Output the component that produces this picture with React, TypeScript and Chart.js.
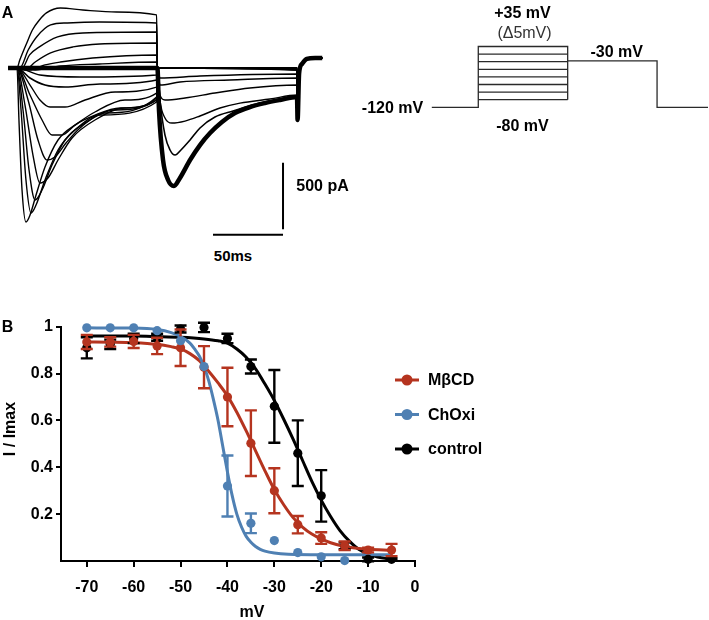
import React, { useEffect, useRef } from 'react';
import { Chart, registerables } from 'chart.js';
Chart.register(...registerables);

const FONT = "'Liberation Sans', Arial, Helvetica, sans-serif";

// ---------------- Panel B data ----------------
const voltages = [-70, -65, -60, -55, -50, -45, -40, -35, -30, -25, -20, -15, -10, -5];
const controlMean = [0.91, 0.925, 0.95, 0.955, 0.99, 0.997, 0.95, 0.83, 0.66, 0.46, 0.278, 0.065, 0.007, 0.007];
const controlErr = [0.045, 0.02, 0.02, 0.015, 0.015, 0.02, 0.02, 0.03, 0.155, 0.14, 0.11, 0.015, 0.008, 0.005];
const mbcdMean = [0.935, 0.935, 0.937, 0.918, 0.91, 0.827, 0.7, 0.503, 0.3, 0.155, 0.098, 0.065, 0.047, 0.047];
const mbcdErr = [0.03, 0.02, 0.028, 0.035, 0.078, 0.09, 0.125, 0.14, 0.096, 0.037, 0.025, 0.018, 0.01, 0.026];
const choxiMean = [0.995, 0.995, 0.995, 0.983, 0.94, 0.83, 0.32, 0.161, 0.087, 0.036, 0.018, 0.002, null, null];
const choxiErr = [0, 0, 0, 0, 0, 0, 0.13, 0.042, 0, 0, 0, 0, 0, 0];

const controlFitV = [-70, -60, -55, -50, -45, -42, -40, -38, -36, -34, -32, -30, -28, -26, -24, -22, -20, -18, -16, -14, -12, -10, -8, -5];
const controlFit = [0.96, 0.96, 0.958, 0.955, 0.948, 0.94, 0.93, 0.905, 0.87, 0.82, 0.755, 0.685, 0.605, 0.52, 0.43, 0.34, 0.26, 0.19, 0.13, 0.085, 0.05, 0.03, 0.017, 0.008];
const mbcdFitV = [-70, -65, -60, -55, -52, -50, -48, -46, -44, -42, -40, -38, -36, -34, -32, -30, -28, -26, -24, -22, -20, -18, -15, -12, -10, -5];
const mbcdFit = [0.935, 0.934, 0.932, 0.925, 0.915, 0.905, 0.885, 0.855, 0.81, 0.76, 0.705, 0.635, 0.555, 0.47, 0.385, 0.305, 0.24, 0.185, 0.145, 0.115, 0.094, 0.078, 0.062, 0.053, 0.05, 0.045];
const choxiFitV = [-70, -60, -55, -52, -50, -48, -47, -46, -45, -44, -43, -42, -41, -40, -39, -38, -37, -36, -35, -34, -33, -32, -30, -27, -20, -5];
const choxiFit = [0.995, 0.994, 0.988, 0.975, 0.958, 0.93, 0.905, 0.875, 0.83, 0.77, 0.69, 0.6, 0.49, 0.38, 0.28, 0.2, 0.145, 0.105, 0.08, 0.062, 0.05, 0.042, 0.034, 0.029, 0.027, 0.027];

const xTickValues = [-70, -60, -50, -40, -30, -20, -10, 0];
const yTickValues = [0.2, 0.4, 0.6, 0.8, 1];
const legendLabels = ['MβCD', 'ChOxi', 'control'];

const RED = '#b5341f';
const BLUE = '#4f80b3';
const BLACK = '#000000';

// ---------------- Panel A data (time ms, current pA) ----------------
const lead = [[-6.4, 0]];
const preFlat = [[0, 0], [99.7, 0]];
const preO1 = [[0, 0], [2, 60], [7, 188], [11, 285], [16, 360], [21, 413], [31, 450], [47, 435], [71, 420], [99.7, 398]];
const preO2 = [[0, 0], [2, 0], [8, 135], [14, 233], [24, 323], [36, 338], [59, 345], [99.7, 338]];
const preO3 = [[0, 0], [3.6, 0], [9, 98], [16, 158], [29, 233], [47, 263], [99.7, 270]];
const preO4 = [[0, 0], [5.7, -15], [13, 45], [24, 113], [40, 158], [59, 180], [99.7, 188]];
const preO5 = [[0, 0], [9, -15], [20, 23], [31, 45], [54, 75], [99.7, 98]];
const preO6 = [[0, 0], [13, -15], [31, 15], [59, 30], [99.7, 45]];
const preI1 = [[0, 0], [1.4, -390], [3.6, -915], [6.4, -1155], [9.3, -1103], [13.6, -953], [20, -743], [29.3, -540], [41.4, -428], [55.7, -353], [73.6, -300], [99.7, -240]];
const preI2 = [[0, 0], [2.9, -315], [6.4, -840], [10, -1088], [13.6, -1028], [20, -840], [29.3, -615], [41.4, -465], [59.3, -353], [99.7, -255]];
const preI3 = [[0, 0], [4.3, -315], [8.6, -765], [12.9, -990], [17.9, -915], [25, -728], [34.3, -540], [48.6, -413], [70, -315], [99.7, -240]];
const preI4 = [[0, 0], [5.7, -278], [11.4, -653], [16.4, -863], [22.1, -825], [29.3, -690], [39.3, -525], [55.7, -390], [77.1, -300], [99.7, -225]];
const preI5 = [[0, 0], [7.9, -240], [15, -540], [21.4, -690], [27.1, -668], [35, -563], [45, -450], [62.9, -338], [99.7, -218]];
const preI6 = [[0, 0], [9.3, -203], [17.9, -390], [25, -503], [32.1, -503], [41.4, -428], [55.7, -330], [77.1, -240], [99.7, -188]];
const preI7 = [[0, 0], [9.3, -128], [16.4, -240], [23.6, -293], [34.3, -293], [48.6, -240], [70, -180], [99.7, -143]];
const preI8 = [[0, 0], [9.3, -75], [20, -128], [34.3, -143], [59.3, -120], [99.7, -90]];
const preI9 = [[0, 0], [16.4, -53], [45, -68], [99.7, -53]];

const testTT = [[100.3, 0], [101.4, -315], [104.3, -690], [107.9, -840], [112.1, -885], [116.4, -825], [123.6, -690], [130.7, -578], [137.9, -488], [146.4, -405], [155.7, -338], [166.4, -293], [177.1, -263], [187.9, -240], [200, -218]];
const testT2 = [[100.3, 0], [102.1, -240], [105.7, -503], [109.3, -615], [112.9, -653], [117.1, -615], [123.6, -540], [130.7, -450], [141.4, -368], [154.3, -323], [173.6, -263], [200, -218]];
const testT3 = [[100.3, 0], [102.1, -240], [105.7, -375], [110.7, -413], [120, -398], [130.7, -360], [145, -300], [159.3, -263], [180.7, -233], [200, -203]];
const testT4 = [[100.3, 0], [102.1, -203], [105.7, -240], [120, -225], [141.4, -188], [166.4, -150], [200, -128]];
const testT5 = [[100.3, 0], [102.1, -128], [116.4, -105], [152.1, -90], [200, -75]];
const testT6 = [[100.3, 0], [102.1, -75], [130.7, -60], [200, -45]];
const testT7 = [[100.3, 0], [200, -15]];
const testT8 = [[100.3, 0], [200, 0]];
const tail = [[200.4, -390], [201.5, -40], [203.5, 30], [207, 68], [213, 75], [218, 75]];

const scaleBarCurrent = 500; // pA
const scaleBarTime = 50; // ms

// Voltage protocol (schematic levels)
const holdingStart = -52;
const prepulseEnd = 100;
const testEnd = 200;
const protocolEnd = 257;
const prepulseLevels = [1, 2, 3, 4, 5, 6, 7, 8];
const testLevel = 6.1;

const pts = (arr: (number | null)[][]) => arr.map(([x, y]) => ({ x, y }));

const traceSet = [
  { pre: preO1, test: testT8, w: 1.4 },
  { pre: preO2, test: testT8, w: 1.4 },
  { pre: preO3, test: testT8, w: 1.4 },
  { pre: preO4, test: testT7, w: 1.4 },
  { pre: preO5, test: testT8, w: 1.4 },
  { pre: preO6, test: testT8, w: 1.4 },
  { pre: preI1, test: testT8, w: 1.4 },
  { pre: preI2, test: testT7, w: 1.4 },
  { pre: preI3, test: testT7, w: 1.4 },
  { pre: preI4, test: testT6, w: 1.4 },
  { pre: preI5, test: testT5, w: 1.4 },
  { pre: preI6, test: testT4, w: 1.4 },
  { pre: preI7, test: testT3, w: 1.4 },
  { pre: preI8, test: testT2, w: 1.6 },
  { pre: preI9, test: testTT, w: 1.6 },
  { pre: preFlat, test: testTT, w: 4.5 },
];

const errorBarPlugin = {
  id: 'errorBars',
  beforeDatasetDraw(chart: any, args: any) {
    const ds = chart.data.datasets[args.index];
    if (!ds.yErr) return;
    const ctx = chart.ctx;
    const xs = chart.scales.x;
    const ys = chart.scales.y;
    ctx.save();
    ctx.strokeStyle = ds.borderColor;
    ctx.lineWidth = 2.4;
    ds.data.forEach((p: any, i: number) => {
      const e = ds.yErr[i];
      if (p.y == null || !e) return;
      const x = xs.getPixelForValue(p.x);
      const y1 = ys.getPixelForValue(p.y + e);
      const y2 = ys.getPixelForValue(p.y - e);
      ctx.beginPath();
      ctx.moveTo(x, y1); ctx.lineTo(x, y2);
      ctx.moveTo(x - 6, y1); ctx.lineTo(x + 6, y1);
      ctx.moveTo(x - 6, y2); ctx.lineTo(x + 6, y2);
      ctx.stroke();
    });
    ctx.restore();
  },
};

const legendColors = [RED, BLUE, BLACK];
const legendPlugin = {
  id: 'legendB',
  afterDraw(chart: any) {
    const ctx = chart.ctx;
    const rows = [80, 114.5, 149];
    legendLabels.forEach((label, i) => {
      const y = rows[i];
      ctx.save();
      ctx.strokeStyle = legendColors[i];
      ctx.lineWidth = 3;
      ctx.beginPath(); ctx.moveTo(395, y); ctx.lineTo(419, y); ctx.stroke();
      ctx.fillStyle = legendColors[i];
      ctx.beginPath(); ctx.arc(407, y, 5.5, 0, Math.PI * 2); ctx.fill();
      ctx.fillStyle = '#000';
      ctx.font = `bold 16px ${FONT}`;
      ctx.textBaseline = 'middle';
      ctx.textAlign = 'left';
      ctx.fillText(label, 428, y + 1);
      ctx.restore();
    });
  },
};

const Label = ({ x, y, text, size = 16, weight = 'bold', rotate = false, color = '#000' }: any) => (
  <div
    style={{
      position: 'absolute', left: x, top: y,
      transform: `translate(-50%, -50%)${rotate ? ' rotate(-90deg)' : ''}`,
      font: `${weight} ${size}px ${FONT}`, lineHeight: '1', whiteSpace: 'nowrap', color,
    }}
  >{text}</div>
);

export default function App() {
  const aRef = useRef<HTMLCanvasElement>(null);
  const pRef = useRef<HTMLCanvasElement>(null);
  const bRef = useRef<HTMLCanvasElement>(null);

  useEffect(() => {
    const charts: Chart[] = [];
    const hidden = { display: false };

    // ---- Panel A traces ----
    const traceDatasets: any[] = traceSet.map((t) => ({
      data: pts([...lead, ...t.pre, ...t.test, ...tail]),
      borderColor: '#000', borderWidth: t.w, pointRadius: 0, showLine: true,
      cubicInterpolationMode: 'monotone', fill: false,
    }));
    const barAnchorT = 190;
    const barTopI = -710;
    const barH = -1250;
    traceDatasets.push({
      data: pts([[barAnchorT, barTopI], [barAnchorT, barTopI - scaleBarCurrent]]),
      borderColor: '#000', borderWidth: 2, pointRadius: 0, showLine: true,
    });
    traceDatasets.push({
      data: pts([[barAnchorT - scaleBarTime, barH], [barAnchorT, barH]]),
      borderColor: '#000', borderWidth: 2, pointRadius: 0, showLine: true,
    });
    charts.push(new Chart(aRef.current!, {
      type: 'scatter',
      data: { datasets: traceDatasets },
      options: {
        animation: false, responsive: false, events: [],
        layout: { padding: 0 },
        plugins: { legend: hidden, tooltip: { enabled: false } },
        scales: {
          x: { type: 'linear', display: false, min: -12.14, max: 230.7 },
          y: { type: 'linear', display: false, min: -1327.5, max: 510 },
        },
      } as any,
    }));

    // ---- Protocol ----
    const top = prepulseLevels[prepulseLevels.length - 1];
    const protoDs: any[] = [];
    const pstyle = { borderColor: '#2a2a2a', borderWidth: 1.3, pointRadius: 0, showLine: true };
    protoDs.push({ data: pts([[holdingStart, 0], [0, 0], [0, top], [prepulseEnd, top], [prepulseEnd, prepulseLevels[0]]]), ...pstyle });
    prepulseLevels.slice(0, -1).forEach((L) => protoDs.push({ data: pts([[0, L], [prepulseEnd, L]]), ...pstyle }));
    protoDs.push({ data: pts([[prepulseEnd, testLevel], [testEnd, testLevel], [testEnd, 0], [protocolEnd, 0]]), ...pstyle });
    charts.push(new Chart(pRef.current!, {
      type: 'scatter',
      data: { datasets: protoDs },
      options: {
        animation: false, responsive: false, events: [],
        layout: { padding: 0 },
        plugins: { legend: hidden, tooltip: { enabled: false } },
        scales: {
          x: { type: 'linear', display: false, min: -154.7, max: 258.1 },
          y: { type: 'linear', display: false, min: -4.3, max: 14.12 },
        },
      } as any,
    }));

    // ---- Panel B ----
    const zip = (xs: number[], ys: (number | null)[]) => xs.map((x, i) => ({ x, y: ys[i] }));
    const curve = (xs: number[], ys: number[], color: string, order: number) => ({
      data: zip(xs, ys), borderColor: color, backgroundColor: color, borderWidth: 3,
      pointRadius: 0, showLine: true, cubicInterpolationMode: 'monotone', order, clip: false,
    });
    const points = (ys: (number | null)[], err: number[], color: string, order: number) => ({
      data: zip(voltages, ys), yErr: err, borderColor: color, backgroundColor: color,
      pointRadius: 4.6, pointBorderWidth: 0, showLine: false, order, clip: false,
    });
    const tickFont = { family: FONT, size: 16, weight: 'bold' as const };
    charts.push(new Chart(bRef.current!, {
      type: 'scatter',
      data: {
        datasets: [
          curve(controlFitV, controlFit, BLACK, 6),
          curve(mbcdFitV, mbcdFit, RED, 5),
          curve(choxiFitV, choxiFit, BLUE, 4),
          points(controlMean, controlErr, BLACK, 3),
          points(mbcdMean, mbcdErr, RED, 2),
          points(choxiMean, choxiErr, BLUE, 1),
        ] as any,
      },
      options: {
        animation: false, responsive: false, events: [],
        layout: { padding: { left: 0, top: 26.7, right: 294, bottom: 0 } },
        plugins: { legend: hidden, tooltip: { enabled: false } },
        scales: {
          x: {
            type: 'linear', min: -75.5, max: 0,
            afterBuildTicks: (s: any) => { s.ticks = xTickValues.map((v) => ({ value: v })); },
            afterFit: (s: any) => { s.height = 59; },
            grid: { drawOnChartArea: false, drawTicks: true, tickLength: 6, color: '#000', lineWidth: 2 },
            border: { display: true, color: '#000', width: 2 },
            ticks: { font: tickFont, color: '#000', padding: 11, maxRotation: 0, autoSkip: false },
          },
          y: {
            type: 'linear', min: 0, max: 1,
            afterBuildTicks: (s: any) => { s.ticks = yTickValues.map((v) => ({ value: v })); },
            afterFit: (s: any) => { s.width = 61; },
            grid: { drawOnChartArea: false, drawTicks: true, tickLength: 5, color: '#000', lineWidth: 2 },
            border: { display: true, color: '#000', width: 2 },
            ticks: { font: tickFont, color: '#000', padding: 3, callback: (v: any) => String(+(+v).toFixed(1)) },
          },
        },
      } as any,
      plugins: [errorBarPlugin, legendPlugin],
    }));

    return () => charts.forEach((c) => c.destroy());
  }, []);

  return (
    <div style={{ position: 'absolute', left: 0, top: 0, width: 709, height: 620, background: '#fff', overflow: 'hidden' }}>
      <canvas ref={aRef} width={340} height={245} style={{ position: 'absolute', left: 0, top: 0, width: 340, height: 245 }} />
      <canvas ref={pRef} width={369} height={140} style={{ position: 'absolute', left: 340, top: 0, width: 369, height: 140 }} />
      <canvas ref={bRef} width={709} height={320} style={{ position: 'absolute', left: 0, top: 300, width: 709, height: 320 }} />
      <Label x={7.5} y={12.5} text="A" />
      <Label x={7.5} y={327} text="B" />
      <Label x={522.5} y={12.5} text="+35 mV" />
      <Label x={524.5} y={32.5} text="(Δ5mV)" weight="normal" color="#333" />
      <Label x={616.7} y={51.7} text="-30 mV" />
      <Label x={392.5} y={108} text="-120 mV" />
      <Label x={522.5} y={126} text="-80 mV" />
      <Label x={322.5} y={185.5} text="500 pA" />
      <Label x={233} y={255} text="50ms" size={15} />
      <Label x={252} y={612} text="mV" />
      <Label x={10} y={429} text="I / Imax" rotate />
    </div>
  );
}
